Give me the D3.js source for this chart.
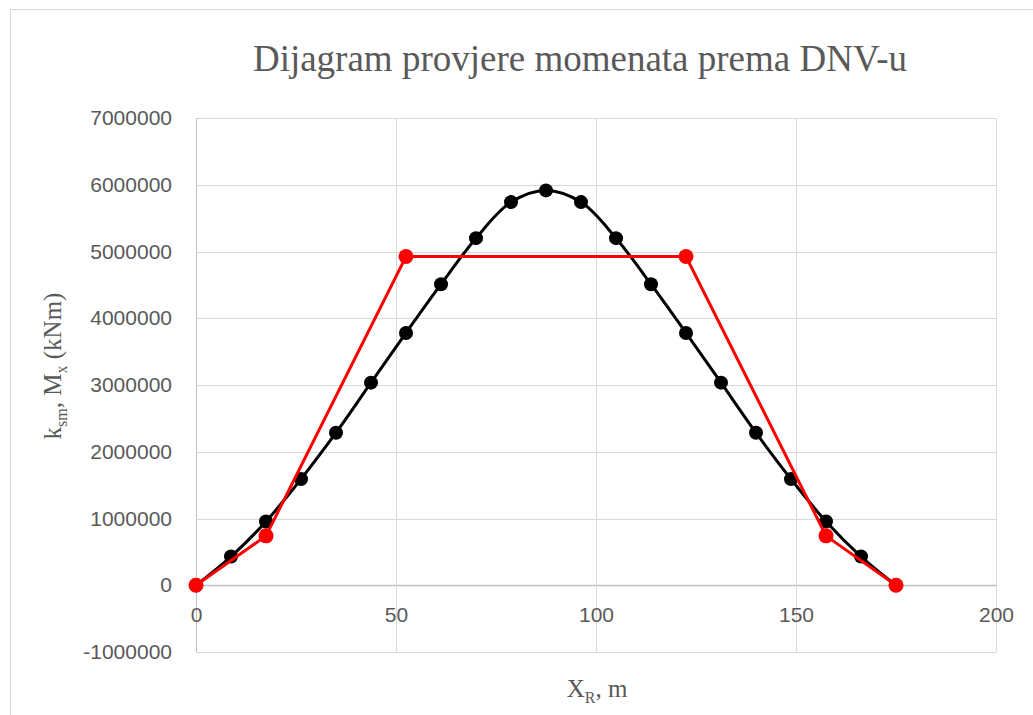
<!DOCTYPE html>
<html>
<head>
<meta charset="utf-8">
<script src="https://cdn.jsdelivr.net/npm/d3@7"></script>
<style>
  html, body { margin: 0; padding: 0; background: #fff; }
  svg { display: block; }
</style>
</head>
<body>
<svg id="chart" width="1033" height="715"></svg>
<script>
// Positions along the hull (m)
const xR = [0, 8.75, 17.5, 26.25, 35, 43.75, 52.5, 61.25, 70, 78.75, 87.5,
            96.25, 105, 113.75, 122.5, 131.25, 140, 148.75, 157.5, 166.25, 175];
// Still-water bending moment M_x (kNm)
const mx = [0, 430000, 955000, 1590000, 2285000, 3035000, 3780000, 4510000, 5200000, 5740000, 5915000,
            5740000, 5200000, 4510000, 3780000, 3035000, 2285000, 1590000, 955000, 430000, 0];
// DNV permissible moment envelope k_sm
const ksmX = [0, 17.5, 52.5, 122.5, 157.5, 175];
const ksmY = [0, 740000, 4925000, 4925000, 740000, 0];

const xTicks = [0, 50, 100, 150, 200];
const yTicks = [-1000000, 0, 1000000, 2000000, 3000000, 4000000, 5000000, 6000000, 7000000];

const svg = d3.select("#chart");
const W = 1033, H = 715;
const plot = { left: 196, right: 996, top: 118, bottom: 652 };

// chart frame
svg.append("rect")
  .attr("x", 10.5).attr("y", 9.5)
  .attr("width", W + 20).attr("height", H + 20)
  .attr("fill", "#fff").attr("stroke", "#d9d9d9").attr("stroke-width", 1);

const x = d3.scaleLinear().domain([0, 200]).range([plot.left, plot.right]);
const y = d3.scaleLinear().domain([-1000000, 7000000]).range([plot.bottom, plot.top]);

const gridColor = "#d9d9d9";
const textColor = "#595959";
const tickFont = "'Liberation Sans', Arial, sans-serif";
const tickSize = 21;
const serif = "'Liberation Serif', 'Times New Roman', serif";
// plain integer labels with an ASCII hyphen for negatives
const intLabel = d => String(Math.round(d));

// horizontal gridlines
svg.append("g")
  .selectAll("line").data(yTicks).join("line")
  .attr("x1", plot.left).attr("x2", plot.right)
  .attr("y1", d => Math.round(y(d)) + 0.5).attr("y2", d => Math.round(y(d)) + 0.5)
  .attr("stroke", d => d === 0 ? "#bfbfbf" : gridColor)
  .attr("stroke-width", d => d === 0 ? 1.5 : 1);

// vertical gridlines
svg.append("g")
  .selectAll("line").data(xTicks).join("line")
  .attr("x1", d => Math.round(x(d)) + 0.5).attr("x2", d => Math.round(x(d)) + 0.5)
  .attr("y1", plot.top).attr("y2", plot.bottom)
  .attr("stroke", d => d === 0 ? "#bfbfbf" : gridColor)
  .attr("stroke-width", 1);

// y tick labels
const yAxis = d3.axisLeft(y).tickValues(yTicks).tickSize(0).tickPadding(24)
  .tickFormat(intLabel);
svg.append("g")
  .attr("transform", `translate(${plot.left},0)`)
  .call(yAxis)
  .call(g => g.select(".domain").remove())
  .call(g => g.selectAll("text")
    .attr("fill", textColor).attr("font-family", tickFont).attr("font-size", tickSize));

// x tick labels, placed along the zero line
const xAxis = d3.axisBottom(x).tickValues(xTicks).tickSize(0).tickPadding(22)
  .tickFormat(intLabel);
svg.append("g")
  .attr("transform", `translate(0,${y(0)})`)
  .call(xAxis)
  .call(g => g.select(".domain").remove())
  .call(g => g.selectAll("text")
    .attr("fill", textColor).attr("font-family", tickFont).attr("font-size", tickSize));

// bending moment curve (smoothed)
const momentLine = d3.line()
  .x((d, i) => x(xR[i])).y(d => y(d))
  .curve(d3.curveCatmullRom.alpha(0.5));
svg.append("path")
  .datum(mx)
  .attr("d", momentLine)
  .attr("fill", "none").attr("stroke", "#000").attr("stroke-width", 3);
svg.append("g")
  .selectAll("circle").data(mx).join("circle")
  .attr("cx", (d, i) => x(xR[i])).attr("cy", d => y(d))
  .attr("r", 7).attr("fill", "#000");

// permissible envelope
const envLine = d3.line()
  .x((d, i) => x(ksmX[i])).y(d => y(d));
svg.append("path")
  .datum(ksmY)
  .attr("d", envLine)
  .attr("fill", "none").attr("stroke", "#ff0000").attr("stroke-width", 3);
svg.append("g")
  .selectAll("circle").data(ksmY).join("circle")
  .attr("cx", (d, i) => x(ksmX[i])).attr("cy", d => y(d))
  .attr("r", 7.5).attr("fill", "#ff0000");

// title
svg.append("text")
  .attr("x", 580).attr("y", 71)
  .attr("text-anchor", "middle")
  .attr("font-family", serif).attr("font-size", 37)
  .attr("fill", textColor)
  .text("Dijagram provjere momenata prema DNV-u");

// x axis title
const xt = svg.append("text")
  .attr("x", 597).attr("y", 697)
  .attr("text-anchor", "middle")
  .attr("font-family", serif).attr("font-size", 25)
  .attr("fill", textColor);
xt.append("tspan").text("X");
xt.append("tspan").attr("font-size", 16).attr("dy", 6).text("R");
xt.append("tspan").attr("dy", -6).text(", m");

// y axis title
const yt = svg.append("text")
  .attr("transform", "translate(61,366) rotate(-90)")
  .attr("text-anchor", "middle")
  .attr("font-family", serif).attr("font-size", 25)
  .attr("fill", textColor);
yt.append("tspan").text("k");
yt.append("tspan").attr("font-size", 16).attr("dy", 6).text("sm");
yt.append("tspan").attr("dy", -6).text(", M");
yt.append("tspan").attr("font-size", 16).attr("dy", 6).text("x");
yt.append("tspan").attr("dy", -6).text(" (kNm)");
</script>
</body>
</html>
